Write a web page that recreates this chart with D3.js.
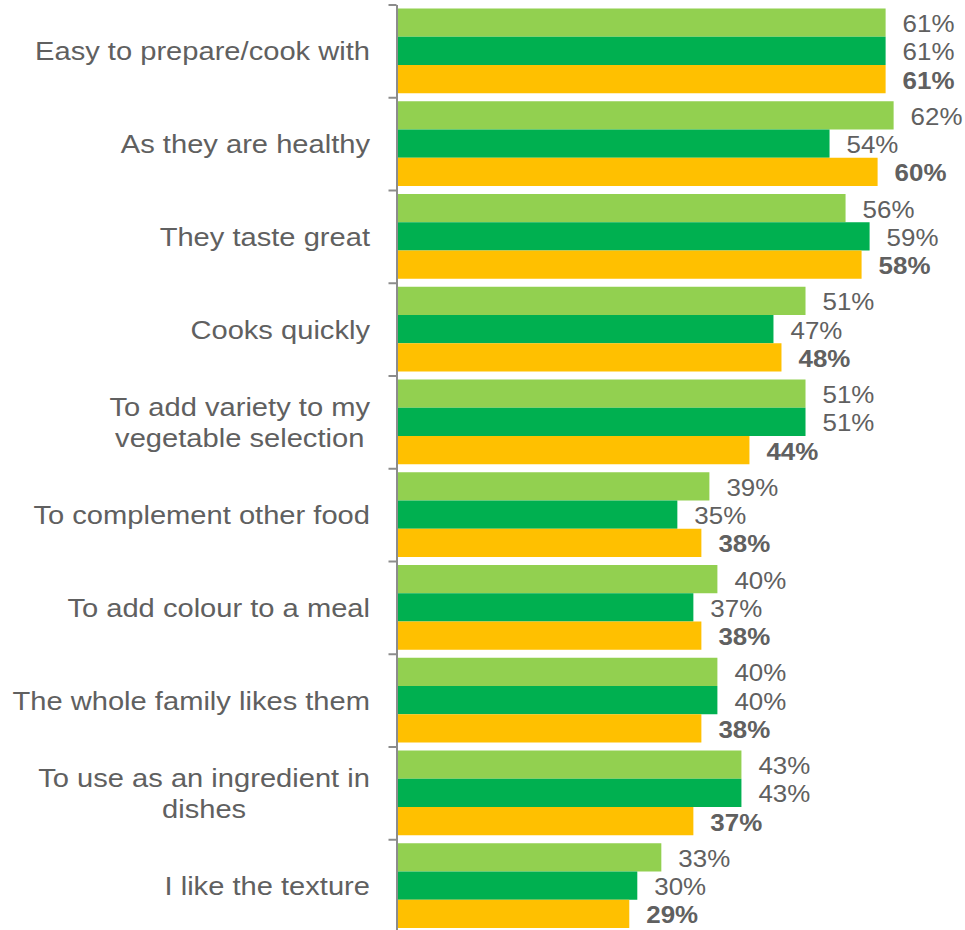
<!DOCTYPE html>
<html>
<head>
<meta charset="utf-8">
<script src="https://cdn.jsdelivr.net/npm/d3@7"></script>
<style>
  body { margin: 0; background: #fff; }
  svg { display: block; font-family: "Liberation Sans", Arial, sans-serif; }
</style>
</head>
<body>
<script>
// categories (line breaks where the original label wraps)
const categories = [
    "Easy to prepare/cook with",
    "As they are healthy",
    "They taste great",
    "Cooks quickly",
    "To add variety to my\nvegetable selection",
    "To complement other food",
    "To add colour to a meal",
    "The whole family likes them",
    "To use as an ingredient in\ndishes",
    "I like the texture"
];

const seriesNames = ["light", "dark", "yellow"];
const lightGreen = [61, 62, 56, 51, 51, 39, 40, 40, 43, 33];
const darkGreen = [61, 54, 59, 47, 51, 35, 37, 40, 43, 30];
const yellow = [61, 60, 58, 48, 44, 38, 38, 38, 37, 29];

const colors = { light: "#92D050", dark: "#00B050", yellow: "#FFC000" };
const textColor = "#606060";

const width = 965, height = 930;

const svg = d3.select("body")
    .append("svg")
    .attr("width", width)
    .attr("height", height);

// scales
const x = d3.scaleLinear()
    .domain([0, 70])
    .range([397, 957.7]);

const y0 = d3.scaleBand()
    .domain(categories)
    .range([4.5, 932])
    .padding(0);

const y1 = d3.scaleBand()
    .domain(seriesNames)
    .range([4, y0.bandwidth() - 4])
    .padding(0);

// flatten the rows for drawing
const rows = categories.map((c, i) => ({
    cat: c,
    vals: [
        { key: "light", v: lightGreen[i] },
        { key: "dark", v: darkGreen[i] },
        { key: "yellow", v: yellow[i] }
    ]
}));

// bars
const groups = svg.selectAll(".grp")
    .data(rows)
    .enter()
    .append("g")
    .attr("class", "grp")
    .attr("transform", d => "translate(0," + y0(d.cat) + ")");

groups.selectAll("rect")
    .data(d => d.vals)
    .enter()
    .append("rect")
    .attr("x", x(0))
    .attr("y", d => y1(d.key))
    .attr("width", d => x(d.v) - x(0))
    .attr("height", y1.bandwidth())
    .attr("fill", d => colors[d.key]);

// value labels (yellow series is bold)
groups.selectAll("text")
    .data(d => d.vals)
    .enter()
    .append("text")
    .attr("transform", d => "translate(" + (x(d.v) + 17) + "," + (y1(d.key) + y1.bandwidth() / 2 + 9.5) + ") scale(1.08,1)")
    .attr("font-size", 24)
    .attr("font-weight", d => d.key === "yellow" ? "bold" : "normal")
    .attr("fill", textColor)
    .text(d => d.v + "%");

// axis: ticks on the band boundaries
const yb = d3.scaleLinear()
    .domain([0, categories.length])
    .range([4.5, 932]);

const axis = svg.append("g")
    .attr("transform", "translate(396.5,0)")
    .call(d3.axisLeft(yb)
        .tickValues(d3.range(categories.length + 1))
        .tickFormat("")
        .tickSizeInner(8)
        .tickSizeOuter(0));

axis.select(".domain").attr("stroke", "#8c8c8c").attr("stroke-width", 2);
axis.selectAll(".tick line").attr("stroke", "#8c8c8c").attr("stroke-width", 2);

// category labels
const labelX = 370;
const lineGap = 31;
const sx = 1.12;

categories.forEach(c => {
    const lines = c.split("\n");
    const cy = y0(c) + y0.bandwidth() / 2;
    const g = svg.append("g");
    lines.forEach((ln, i) => {
        const by = cy + 9.5 + (i - (lines.length - 1) / 2) * lineGap;
        const t = g.append("text")
            .attr("font-size", 26)
            .attr("fill", textColor)
            .text(ln);
        if (lines.length === 1) {
            t.attr("text-anchor", "end")
                .attr("transform", "translate(" + labelX + "," + by + ") scale(" + sx + ",1)");
        } else {
            t.attr("text-anchor", "middle").attr("class", "ml").attr("data-by", by);
        }
    });
    // wrapped labels: first line ends at labelX, others centred under it
    const ml = g.selectAll(".ml");
    if (!ml.empty()) {
        const w0 = ml.node().getComputedTextLength() * sx;
        const cx = labelX - w0 / 2;
        ml.attr("transform", function () {
            return "translate(" + cx + "," + this.getAttribute("data-by") + ") scale(" + sx + ",1)";
        });
    }
});
</script>
</body>
</html>
